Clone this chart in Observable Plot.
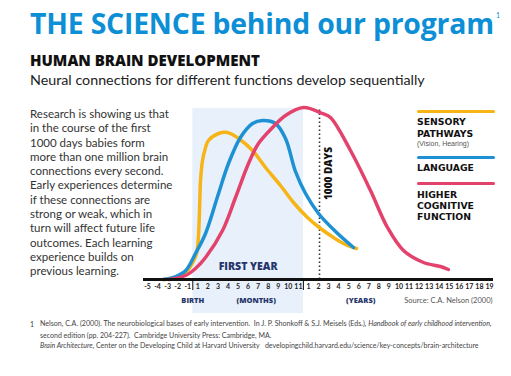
<!DOCTYPE html>
<html><head><meta charset="utf-8">
<script src="https://cdn.jsdelivr.net/npm/d3@7"></script>
<script src="https://cdn.jsdelivr.net/npm/@observablehq/plot@0.6"></script>
<style>
body{margin:0;background:#fff;}
#page{position:relative;width:511px;height:376px;overflow:hidden;font-family:Lato,"Open Sans",sans-serif;background:#fff;}
.abs{position:absolute;white-space:nowrap;line-height:1;}
#title{left:30px;top:9px;font-family:"Open Sans";font-weight:700;font-size:24px;color:#0d8fd6;letter-spacing:-0.2px;}
#sup{left:496px;top:12px;font-size:7px;color:#0d8fd6;}
#heading{left:30px;top:52.5px;font-family:"Open Sans";font-weight:800;font-size:13px;color:#111;}
#subtitle{left:30px;top:72.5px;font-size:13px;color:#222;}
#para{left:30px;top:107px;font-size:11.5px;line-height:14.3px;color:#333;}
.leg{position:absolute;left:417px;font-family:"DejaVu Sans";font-weight:700;font-size:9.3px;line-height:1;color:#111;white-space:nowrap;}
.bar{position:absolute;left:417px;width:78px;height:3px;border-radius:1.5px;}
#vh{left:417px;top:139.8px;font-family:"Liberation Sans";font-size:7px;color:#555;}
.fn{position:absolute;left:40px;font-size:7px;line-height:10.5px;color:#444;white-space:nowrap;}
#fnnum{position:absolute;left:30px;top:319px;font-size:7px;line-height:10.5px;color:#444;}
#chart{position:absolute;left:0;top:95px;}
</style></head>
<body><div id="page">
<div id="title" class="abs">THE SCIENCE behind our program</div>
<div id="sup" class="abs">1</div>
<div id="heading" class="abs">HUMAN BRAIN DEVELOPMENT</div>
<div id="subtitle" class="abs">Neural connections for different functions develop sequentially</div>
<div id="para" class="abs">Research is showing us that<br>in the course of the first<br>1000 days babies form<br>more than one million brain<br>connections every second.<br>Early experiences determine<br>if these connections are<br>strong or weak, which in<br>turn will affect future life<br>outcomes. Each learning<br>experience builds on<br>previous learning.</div>
<div id="chart"></div>
<div class="bar" style="top:109.5px;background:#f7b417"></div>
<div class="leg" style="top:117.4px">SENSORY</div>
<div class="leg" style="top:129px">PATHWAYS</div>
<div id="vh" class="abs">(Vision, Hearing)</div>
<div class="bar" style="top:155.8px;background:#1d91d3"></div>
<div class="leg" style="top:163.4px">LANGUAGE</div>
<div class="bar" style="top:181.8px;background:#e3426c"></div>
<div class="leg" style="top:189.7px">HIGHER</div>
<div class="leg" style="top:200.7px">COGNITIVE</div>
<div class="leg" style="top:211.7px">FUNCTION</div>
<div id="fnnum">1</div>
<div class="fn" id="fn1" style="top:319px">Nelson, C.A. (2000). The neurobiological bases of early intervention.&nbsp; In J. P. Shonkoff &amp; S.J. Meisels (Eds.), <i>Handbook of early childhood intervention,</i></div>
<div class="fn" id="fn2" style="top:329.5px">second edition (pp. 204-227).&nbsp; Cambridge University Press: Cambridge, MA.</div>
<div class="fn" id="fn3" style="top:340px"><i>Brain Architecture</i>, Center on the Developing Child at Harvard University &nbsp; developingchild.harvard.edu/science/key-concepts/brain-architecture</div>
</div>
<script>
// Tick labels: months before birth, months of first year, years
const monthsBefore = ["-5","-4","-3","-2","-1"];
const monthsFirstYear = ["1","2","3","4","5","6","7","8","9","10","11"];
const years = ["1","2","3","4","5","6","7","8","9","10","11","12","13","14","15","16","17","18","19"];
const tickLabels = [...monthsBefore, ...monthsFirstYear, ...years];

// Curves: [axis position (tick index), relative level]
const sensory = [[1.6,0],[2.8,2],[3.8,7],[4.5,17],[4.9,27],[5.07,44],[5.17,69],[5.27,99],[5.47,119],[5.77,132],[6.06,139],[7.06,146],[7.95,147],[9.05,141],[10.44,129],[11.73,112],[13.22,94],[14.51,77],[15.9,62],[17.2,51],[18.49,42],[19.68,35],[20.78,31]];
const language = [[1.6,0],[2.8,3],[3.8,9],[4.77,26],[5.77,46],[7.06,86],[8.05,116],[9.24,142],[10.44,156],[11.43,159],[12.72,156],[13.72,141],[14.71,108],[15.71,86],[17.0,66],[18.69,48],[20.48,32]];
const cognitive = [[2.1,0],[3.78,4],[4.77,11],[5.77,22],[7.46,49],[8.75,82],[10.04,116],[11.03,136],[12.43,152],[13.72,164],[15.51,172],[17.4,166],[18.19,162],[20.18,129],[22.17,89],[23.86,52],[25.45,29],[27.44,17],[29.13,13],[29.92,10]];

const firstYear = [{start: 4.5, end: 15.5, top: 171, bottom: -34, label: "FIRST YEAR"}];
const thousandDays = [{pos: 17.1, top: 171, label: "1000 DAYS"}];
const periodBreaks = [4.5, 15.5];
const axisNotes = [{pos: 4.5, label: "BIRTH"}, {pos: 10.8, label: "(MONTHS)"}, {pos: 21.2, label: "(YEARS)"}];
const source = "Source: C.A. Nelson (2000)";

const ticks = tickLabels.map((label, i) => ({pos: i, label}));
const toRows = (arr) => arr.map(([pos, v]) => ({pos, v}));

const navy = "#27356b";
const chart = Plot.plot({
  width: 511, height: 220,
  marginLeft: 143, marginRight: 18, marginTop: 9, marginBottom: 36,
  x: {domain: [-0.4, 34.4], axis: null},
  y: {domain: [0, 175], axis: null},
  style: {background: "transparent", overflow: "visible", fontFamily: "Lato, sans-serif"},
  marks: [
    Plot.rect(firstYear, {x1: "start", x2: "end", y1: "bottom", y2: "top", fill: "#e8f1fb"}),
    Plot.ruleX(thousandDays, {x: "pos", y1: 0, y2: "top", stroke: "#333", strokeWidth: 1.6, strokeDasharray: "1.4,2.6"}),
    Plot.text(thousandDays, {x: "pos", y: 106, text: "label", rotate: -90, dx: 9, fontSize: 10, fontWeight: 800, fontFamily: "Open Sans", fill: "#111"}),
    Plot.text(firstYear, {x: d => (d.start + d.end) / 2, y: 13, text: "label", fontSize: 10.5, fontWeight: 800, fontFamily: "Open Sans", fill: navy}),
    Plot.line(toRows(sensory), {x: "pos", y: "v", stroke: "#f7b417", strokeWidth: 3.5, curve: "catmull-rom"}),
    Plot.line(toRows(language), {x: "pos", y: "v", stroke: "#1d91d3", strokeWidth: 3.5, curve: "catmull-rom"}),
    Plot.line(toRows(cognitive), {x: "pos", y: "v", stroke: "#e3426c", strokeWidth: 3.5, curve: "catmull-rom"}),
    Plot.ruleY([0], {stroke: "#111", strokeWidth: 3}),
    Plot.ruleX(periodBreaks, {y1: -1, y2: -11, stroke: "#111", strokeWidth: 1}),
    Plot.text(ticks, {x: "pos", y: 0, dy: 7, text: "label", fontSize: 7, fontWeight: 700, fill: "#222"}),
    Plot.text(axisNotes, {x: "pos", y: 0, dy: 21, text: "label", fontSize: 7.5, fontWeight: 800, fontFamily: "Open Sans", fill: navy}),
    Plot.text([source], {x: 34.3, y: 0, dy: 21, text: d => d, textAnchor: "end", fontSize: 7.5, fill: "#555"})
  ]
});
document.getElementById("chart").appendChild(chart);

// fit text blocks to their measured widths in the reference
function fit(id, w) {
  const el = document.getElementById(id);
  const fs = parseFloat(getComputedStyle(el).fontSize);
  const cur = el.getBoundingClientRect().width;
  el.style.fontSize = (fs * w / cur) + "px";
}
fit("title", 463);
fit("heading", 230);
fit("subtitle", 395);
fit("fn1", 452);
</script>
</body></html>
